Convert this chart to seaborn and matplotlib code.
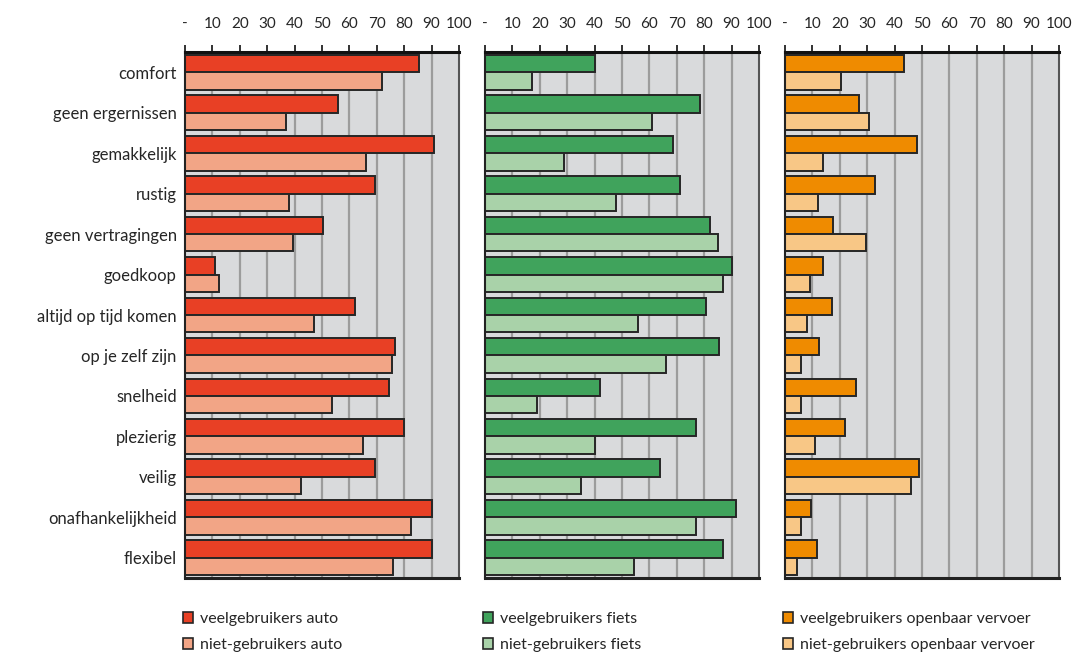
import matplotlib
matplotlib.use('Agg')
import matplotlib.pyplot as plt
import matplotlib.patches as mpatches
import seaborn as sns
import pandas as pd

categorieen = ['comfort', 'geen ergernissen', 'gemakkelijk', 'rustig',
               'geen vertragingen', 'goedkoop', 'altijd op tijd komen',
               'op je zelf zijn', 'snelheid', 'plezierig', 'veilig',
               'onafhankelijkheid', 'flexibel']

auto_veel = [85.5, 56, 91, 69.5, 50.5, 11, 62, 76.5, 74.5, 80, 69.5, 90, 90]
auto_niet = [72, 37, 66, 38, 39.5, 12.5, 47, 75.5, 53.5, 65, 42.5, 82.5, 76]
fiets_veel = [40, 78.5, 68.5, 71, 82, 90, 80.5, 85.5, 42, 77, 64, 91.5, 87]
fiets_niet = [17, 61, 29, 48, 85, 87, 56, 66, 19, 40, 35, 77, 54.5]
ov_veel = [43.5, 27, 48, 33, 17.5, 14, 17, 12.5, 26, 22, 49, 9.5, 11.5]
ov_niet = [20.5, 30.5, 14, 12, 29.5, 9, 8, 6, 6, 11, 46, 6, 4.5]

x_ticks = [0, 10, 20, 30, 40, 50, 60, 70, 80, 90, 100]
x_labels = ['-', '10', '20', '30', '40', '50', '60', '70', '80', '90', '100']

panels = [
    ('veelgebruikers auto', auto_veel, 'niet-gebruikers auto', auto_niet,
     ['#E84025', '#F2A586']),
    ('veelgebruikers fiets', fiets_veel, 'niet-gebruikers fiets', fiets_niet,
     ['#40A35C', '#A9D2A9']),
    ('veelgebruikers openbaar vervoer', ov_veel,
     'niet-gebruikers openbaar vervoer', ov_niet,
     ['#EF8B00', '#F8C786']),
]

sns.set_style('white')
plt.rcParams['font.family'] = ['Lato', 'DejaVu Sans']

fig = plt.figure(figsize=(10.77, 6.56), dpi=100)
lefts = [0.1718, 0.4503, 0.7289]
width = 0.2544
bottom, height = 0.1189, 0.8018

for i, (n1, v1, n2, v2, kleuren) in enumerate(panels):
    ax = fig.add_axes([lefts[i], bottom, width, height])
    df = pd.DataFrame({
        'categorie': categorieen * 2,
        'waarde': v1 + v2,
        'groep': [n1] * len(categorieen) + [n2] * len(categorieen),
    })
    sns.barplot(data=df, y='categorie', x='waarde', hue='groep',
                orient='h', palette=kleuren, saturation=1, width=0.86,
                edgecolor='#262626', linewidth=1.4, ax=ax, legend=False)
    ax.set_facecolor('#D9DADC')
    ax.set_xlim(0, 100)
    ax.set_ylim(len(categorieen) - 0.5, -0.5)
    ax.set_xlabel('')
    ax.set_ylabel('')
    ax.set_axisbelow(True)
    for xv in x_ticks[1:-1]:
        ax.axvline(xv, color='#9C9C9C', lw=1.6, zorder=0)

    ax.xaxis.tick_top()
    ax.set_xticks(x_ticks)
    ax.set_xticklabels(x_labels, fontsize=11)
    ax.tick_params(axis='x', direction='out', length=5, width=1.3,
                   color='#222222', pad=10)

    ax.set_yticks(range(len(categorieen)))
    ax.set_yticks([k - 0.5 for k in range(len(categorieen))], minor=True)
    ax.tick_params(axis='y', which='major', length=0, pad=6)
    ax.tick_params(axis='y', which='minor', direction='out', length=4,
                   width=1.3, color='#222222')
    if i == 0:
        ax.set_yticklabels(categorieen, fontsize=12)
    else:
        ax.set_yticklabels([])

    for side in ['top', 'left', 'right', 'bottom']:
        ax.spines[side].set_visible(True)
    ax.spines['top'].set_color('#111111')
    ax.spines['top'].set_linewidth(2.2)
    ax.spines['left'].set_color('#222222')
    ax.spines['left'].set_linewidth(1.5)
    ax.spines['right'].set_color('#555555')
    ax.spines['right'].set_linewidth(1.5)
    ax.spines['bottom'].set_color('#222222')
    ax.spines['bottom'].set_linewidth(2.2)

    handles = [mpatches.Patch(facecolor=kleuren[0], edgecolor='#262626',
                              linewidth=1.2, label=n1),
               mpatches.Patch(facecolor=kleuren[1], edgecolor='#262626',
                              linewidth=1.2, label=n2)]
    fig.legend(handles=handles, loc='upper left',
               bbox_to_anchor=(lefts[i] - 0.002, 1 - 612 / 656),
               frameon=False, fontsize=11.5, handlelength=0.65,
               handleheight=0.65, handletextpad=0.45, labelspacing=0.75,
               borderaxespad=0, borderpad=0)

fig.savefig('out.png', dpi=100)
